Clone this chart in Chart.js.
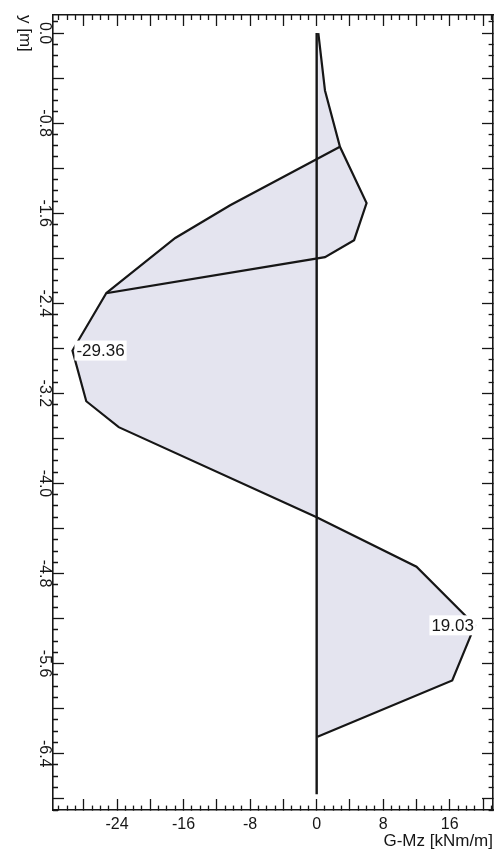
<!DOCTYPE html>
<html lang="de">
<head>
<meta charset="UTF-8">
<title>G-Mz</title>
<script src="https://cdn.jsdelivr.net/npm/chart.js@4"></script>
<style>
  body { margin: 0; background: #fff; }
  canvas { display: block; }
</style>
</head>
<body>
<canvas id="mz" width="499" height="854"></canvas>
<script>
// Momentenlinie G-Mz [kNm/m] ueber y [m]
const curveM = [0.2, 1.0, 2.8, 6.0, 4.5, 1.0, -25.3, -29.36, -27.7, -23.8, 0.0, 12.0, 19.03, 16.3, 0.1];
const curveY = [0.0, -0.51, -1.01, -1.51, -1.84, -1.99, -2.31, -2.82, -3.27, -3.50, -4.30, -4.74, -5.26, -5.75, -6.25];
// zweiter Ast (oben links)
const branchM = [2.8, -10.4, -17.0, -25.3];
const branchY = [-1.01, -1.53, -1.82, -2.31];
// Stabachse
const axisM = [0, 0];
const axisY = [0.0, -6.76];
// beschriftete Extremwerte
const peakM = [-29.36, 19.03];
const peakY = [-2.82, -5.26];

const xLabels = [-24, -16, -8, 0, 8, 16];
const yLabels = [0.0, -0.8, -1.6, -2.4, -3.2, -4.0, -4.8, -5.6, -6.4];
const xMin = -31.7, xMax = 21.2;
const yMin = -6.9, yMax = 0.16;

const FONT = '"Liberation Sans", Arial, Helvetica, sans-serif';
const INK = '#161616';
const FILL = '#e4e4ef';

const pts = (xs, ys) => xs.map((v, i) => ({ x: v, y: ys[i] }));
const mainPts = pts(curveM, curveY);
const branchPts = pts(branchM, branchY);
const pocketPts = branchPts.concat(mainPts.slice(3, 6).reverse());

const xMajor = v => Math.abs(v % 4) < 1e-6;
const yMajor = v => Math.round(v * 10) % 4 === 0;

// Teilstriche nach innen; kurze Striche per Strichmuster
function tickGrid(isMajor, fromFar) {
  return {
    drawOnChartArea: false,
    drawTicks: true,
    tickLength: -11,
    tickWidth: 1.3,
    tickColor: INK,
    tickBorderDash: c => (!c.tick || isMajor(c.tick.value)) ? [] : (fromFar ? [0, 6, 5, 30] : [5, 30])
  };
}
const frame = { display: true, color: INK, width: 1.6 };

// feste Achsmasse, keine Zusatzraender durch Beschriftungen
const fixSize = (w, h) => s => {
  if (w !== null) s.width = w;
  if (h !== null) s.height = h;
  s.paddingLeft = s.paddingRight = s.paddingTop = s.paddingBottom = 0;
};

const annot = {
  id: 'annot',
  afterDatasetsDraw(chart) {
    const { ctx, scales: { x, y }, chartArea } = chart;
    ctx.save();
    ctx.font = '17px ' + FONT;
    ctx.textBaseline = 'middle';
    peakM.forEach((m, i) => {
      const px = x.getPixelForValue(m), py = y.getPixelForValue(peakY[i]);
      const txt = m.toFixed(2);
      const w = ctx.measureText(txt).width;
      const left = m < 0 ? px + 4 : px - 1 - w;
      ctx.fillStyle = '#fff';
      ctx.fillRect(left - 2, py - 10, w + 4, 20);
      ctx.fillStyle = INK;
      ctx.fillText(txt, left, py + 1);
    });
    ctx.translate(25, chartArea.top);
    ctx.rotate(Math.PI / 2);
    ctx.textAlign = 'left';
    ctx.fillText('y [m]', 0, 0);
    ctx.restore();
  }
};

new Chart(document.getElementById('mz'), {
  type: 'scatter',
  data: {
    datasets: [
      { data: pocketPts, showLine: true, pointRadius: 0, borderWidth: 0, borderColor: 'transparent', backgroundColor: FILL, fill: 'shape' },
      { data: mainPts, showLine: true, pointRadius: 0, borderWidth: 2.2, borderColor: INK, backgroundColor: FILL, fill: 'shape' },
      { data: branchPts, showLine: true, pointRadius: 0, borderWidth: 2.2, borderColor: INK, fill: false },
      { data: pts(axisM, axisY), showLine: true, pointRadius: 0, borderWidth: 2.4, borderColor: INK, fill: false }
    ]
  },
  options: {
    responsive: false,
    devicePixelRatio: 1,
    animation: false,
    layout: { padding: { left: 0, top: 15, right: 6, bottom: 0 } },
    plugins: {
      legend: { display: false },
      tooltip: { enabled: false },
      filler: { drawTime: 'beforeDatasetsDraw' }
    },
    scales: {
      x: {
        type: 'linear', position: 'bottom', min: xMin, max: xMax,
        border: frame,
        grid: tickGrid(xMajor, false),
        ticks: {
          stepSize: 1, autoSkip: false, includeBounds: false, maxRotation: 0, padding: 16,
          color: INK, font: { family: FONT, size: 16 },
          callback: v => xLabels.includes(v) ? String(v) : ''
        },
        title: { display: true, text: 'G-Mz [kNm/m]', align: 'end', color: INK, font: { family: FONT, size: 17 }, padding: { top: 0, bottom: 2 } },
        afterFit: fixSize(null, 44)
      },
      x2: {
        type: 'linear', position: 'top', min: xMin, max: xMax,
        border: frame,
        grid: tickGrid(xMajor, true),
        ticks: { display: false, stepSize: 1, autoSkip: false, includeBounds: false },
        afterFit: fixSize(null, 0)
      },
      y: {
        type: 'linear', position: 'left', min: yMin, max: yMax,
        border: frame,
        grid: tickGrid(yMajor, true),
        ticks: {
          stepSize: 0.1, autoSkip: false, includeBounds: false, minRotation: -90, maxRotation: -90,
          crossAlign: 'center', padding: 6, color: INK, font: { family: FONT, size: 16 },
          callback: v => {
            const t = yLabels.find(l => Math.abs(l - v) < 1e-6);
            return t === undefined ? '' : t.toFixed(1);
          }
        },
        afterFit: fixSize(53, null)
      },
      y2: {
        type: 'linear', position: 'right', min: yMin, max: yMax,
        border: frame,
        grid: tickGrid(yMajor, false),
        ticks: { display: false, stepSize: 0.1, autoSkip: false, includeBounds: false },
        afterFit: fixSize(0, null)
      }
    }
  },
  plugins: [annot]
});
</script>
</body>
</html>
